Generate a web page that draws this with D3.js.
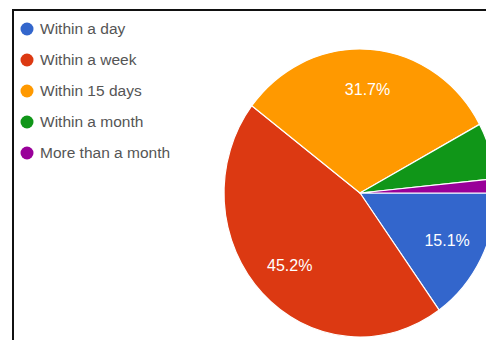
<!DOCTYPE html>
<html>
<head>
<meta charset="utf-8">
<script src="https://cdn.jsdelivr.net/npm/d3@7"></script>
<style>
  html, body { margin: 0; padding: 0; background: #fff; }
  svg { display: block; }
</style>
</head>
<body>
<svg id="chart" width="486" height="340"></svg>
<script>
// Response-time categories and their shares (percent)
const categories = ["Within a day", "Within a week", "Within 15 days", "Within a month", "More than a month"];
const shares = [15.1, 45.2, 31.7, 6.3, 1.6];
const colors = ["#3366cc", "#dc3912", "#ff9900", "#109618", "#990099"];
const labelMin = 10; // slices smaller than this get no percentage label

const svg = d3.select("#chart");

// frame lines (top and left edges of the panel)
svg.append("line").attr("x1", 13).attr("y1", 10).attr("x2", 486).attr("y2", 10)
  .attr("stroke", "#111").attr("stroke-width", 2);
svg.append("line").attr("x1", 13).attr("y1", 9).attr("x2", 13).attr("y2", 340)
  .attr("stroke", "#111").attr("stroke-width", 2);

// legend
const legend = svg.append("g").attr("transform", "translate(27,29)");
const rows = legend.selectAll("g").data(categories).join("g")
  .attr("transform", (d, i) => `translate(0,${i * 31})`);
rows.append("circle").attr("r", 6.5).attr("fill", (d, i) => colors[i]);
rows.append("text").attr("x", 13).attr("dy", "0.35em")
  .attr("font-family", "Liberation Sans, Arial, sans-serif")
  .attr("font-size", 15.5).attr("fill", "#555").text(d => d);

// pie, starting at 3 o'clock and running clockwise
const R = 140;
const pie = d3.pie().sort(null).value(d => d)
  .startAngle(Math.PI / 2).endAngle(Math.PI / 2 + 2 * Math.PI);
const arcs = pie(shares);
const arc = d3.arc().innerRadius(0).outerRadius(R);
const labelArc = d3.arc().innerRadius(R * 0.72).outerRadius(R * 0.72);

const g = svg.append("g").attr("transform", `translate(360,193) scale(${136 / R},${144 / R})`);
g.selectAll("path").data(arcs).join("path")
  .attr("d", arc)
  .attr("fill", (d, i) => colors[i])
  .attr("stroke", "#fff").attr("stroke-width", 1.2).attr("stroke-linejoin", "round");

const fmt = d3.format(".1f");
g.selectAll("text").data(arcs.filter(d => d.data >= labelMin)).join("text")
  .attr("transform", d => {
    const [x, y] = labelArc.centroid(d);
    return `translate(${x},${y}) scale(${R / 136},${R / 144})`;
  })
  .attr("text-anchor", "middle").attr("dy", "0.35em")
  .attr("font-family", "Liberation Sans, Arial, sans-serif")
  .attr("font-size", 16).attr("fill", "#fff")
  .text(d => fmt(d.data) + "%");
</script>
</body>
</html>
